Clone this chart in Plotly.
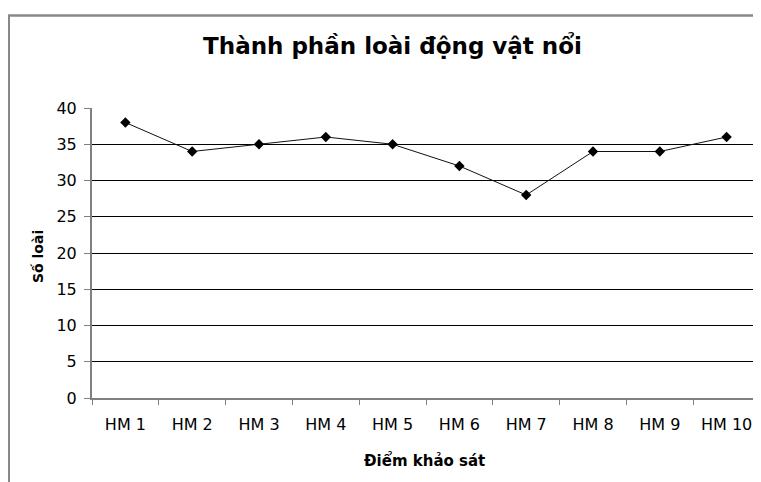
import plotly.graph_objects as go

categories = ["HM 1", "HM 2", "HM 3", "HM 4", "HM 5", "HM 6", "HM 7", "HM 8", "HM 9", "HM 10"]
so_loai = [38, 34, 35, 36, 35, 32, 28, 34, 34, 36]
y_ticks = [0, 5, 10, 15, 20, 25, 30, 35, 40]

FONT = "DejaVu Sans, Verdana, sans-serif"
W, H = 753, 474
L, R, T, B = 84, 1, 100, 84
PW, PH = W - L - R, H - T - B

def px(fx):
    return (fx - L) / PW

def py(fy):
    return (H - B - fy) / PH

fig = go.Figure()
fig.add_trace(go.Scatter(
    x=categories, y=so_loai, mode="lines+markers",
    line=dict(color="#111111", width=1),
    marker=dict(symbol="diamond", size=8, color="#000000"),
    showlegend=False,
))

fig.update_layout(
    width=W, height=H,
    margin=dict(l=L, r=R, t=T, b=B),
    paper_bgcolor="white", plot_bgcolor="white",
    font=dict(family=FONT, size=16, color="#000000"),
    title=dict(text="<b>Thành phần loài động vật nổi</b>", x=384.5 / W, xanchor="center",
               y=1 - 38 / H, yanchor="middle", font=dict(size=23, family=FONT)),
    xaxis=dict(
        type="category", range=[-0.5, 9.5], tickson="boundaries",
        ticks="outside", ticklen=5, tickcolor="#808080",
        showline=True, linecolor="#808080", linewidth=2,
        showgrid=False, tickfont=dict(size=16), ticklabelstandoff=11,
    ),
    yaxis=dict(
        range=[0, 40], tickvals=y_ticks, ticks="outside", ticklen=6, tickcolor="#808080",
        showline=True, linecolor="#808080", linewidth=2,
        showgrid=True, gridcolor="#000000", gridwidth=1, zeroline=False,
        tickfont=dict(size=16), ticklabelstandoff=4,
    ),
)

# axis titles
fig.add_annotation(text="<b>Điểm khảo sát</b>", xref="paper", yref="paper",
                   x=px(416.5), y=py(452), xanchor="center", yanchor="middle",
                   showarrow=False, font=dict(size=15, family=FONT))
fig.add_annotation(text="<b>Số loài</b>", xref="paper", yref="paper",
                   x=px(30), y=py(249), xanchor="center", yanchor="middle",
                   textangle=-90, showarrow=False, font=dict(size=14, family=FONT))

# outer chart frame (top and left edges)
fig.add_shape(type="line", xref="paper", yref="paper", x0=px(0), x1=px(W + 5),
              y0=py(7.5), y1=py(7.5), line=dict(color="#888888", width=2.5))
fig.add_shape(type="line", xref="paper", yref="paper", x0=px(1), x1=px(1),
              y0=py(7.5), y1=py(H + 5), line=dict(color="#888888", width=2))

fig.write_html("out.html")
